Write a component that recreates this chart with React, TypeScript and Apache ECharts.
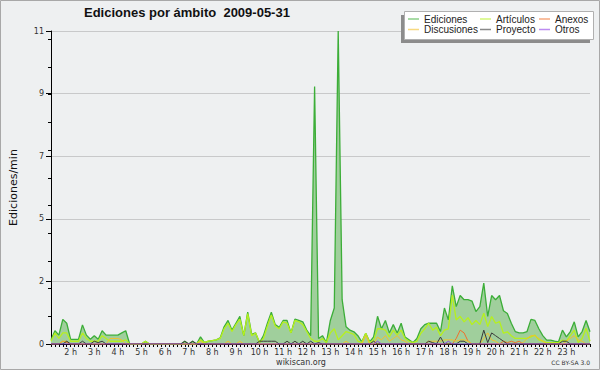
import React, { useEffect, useRef } from "react";
import * as echarts from "echarts";

// 10-minute slots from 1:10 to 24:00
const startMinute = 70;
const stepMinutes = 10;
const slotCount = 138;
const times: string[] = [];
for (let i = 0; i < slotCount; i++) {
  const m = startMinute + i * stepMinutes;
  times.push(`${Math.floor(m / 60)}:${String(m % 60).padStart(2, "0")}`);
}

const yMax = 11.3;
const yInterval = 2.26;

const ediciones = [
  0.15, 0.48, 0.32, 0.89, 0.75, 0.17, 0.17, 0.17, 0.69, 0.32,
  0.17, 0.3, 0.17, 0.48, 0.32, 0.32, 0.32, 0.32, 0.4, 0.48,
  0, 0, 0, 0, 0.1, 0, 0, 0, 0, 0,
  0, 0, 0, 0, 0.1, 0, 0.1, 0, 0.26, 0.05,
  0.1, 0.12, 0.15, 0.22, 0.62, 0.85, 0.5, 0.75, 1.0, 0.3,
  1.15, 0.35, 0.4, 0.05, 0.3, 0.75, 1.15, 0.7, 0.6, 0.85,
  0.85, 0.4, 0.9, 0.85, 0.8, 0.5, 0.3, 9.3, 0.2, 0.3,
  0.05, 0.85, 1.3, 11.3, 1.6, 0.62, 0.5, 0.44, 0.3, 0.08,
  0.39, 0.08, 0.26, 1.0, 0.55, 0.85, 0.4, 0.7, 0.4, 0.75,
  0.25, 0.15, 0.05, 0.2, 0.55, 0.7, 0.75, 0.75, 0.75, 0.45,
  1.3, 0.87, 2.1, 1.35, 1.75, 1.6, 1.6, 1.55, 1.17, 1.35,
  2.2, 1.0, 1.75, 1.6, 1.75, 1.2, 1.1, 0.75, 0.45, 0.4,
  0.4, 0.45, 0.89, 0.85, 0.55, 0.3, 0.14, 0.14, 0.1, 0.08,
  0.5, 0.26, 0.45, 0.8, 0.26, 0.45, 0.85, 0.44,
];

const articulos = [
  0.1, 0.4, 0.2, 0.4, 0.4, 0.1, 0.1, 0.1, 0.4, 0.2,
  0.1, 0.1, 0.1, 0.3, 0.2, 0.1, 0.1, 0.1, 0.1, 0.15,
  0, 0, 0, 0, 0.1, 0, 0, 0, 0, 0,
  0, 0, 0, 0, 0, 0, 0, 0, 0.15, 0.05,
  0.1, 0.12, 0.15, 0.2, 0.55, 0.75, 0.45, 0.7, 0.9, 0.3,
  1.1, 0.3, 0.4, 0.05, 0.2, 0.65, 1.05, 0.65, 0.55, 0.8,
  0.75, 0.4, 0.85, 0.8, 0.7, 0.45, 0.2, 0.1, 0.1, 0.2,
  0.05, 0.4, 0.55, 0.15, 0.3, 0.45, 0.4, 0.35, 0.1, 0.05,
  0.39, 0.05, 0.14, 0.55, 0.55, 0.5, 0.26, 0.5, 0.32, 0.5,
  0.2, 0.1, 0.05, 0.1, 0.39, 0.55, 0.75, 0.5, 0.6, 0.3,
  0.5, 0.55, 1.77, 0.87, 1.0, 0.8, 0.95, 0.7, 0.85, 0.7,
  1.11, 0.63, 0.99, 0.75, 0.81, 0.39, 0.44, 0.3, 0.2, 0.2,
  0.2, 0.2, 0.26, 0.32, 0.15, 0.1, 0.05, 0.05, 0.05, 0.05,
  0.14, 0.1, 0.3, 0.5, 0.05, 0.2, 0.57, 0.1,
];

const anexos = [
  0, 0, 0, 0.1, 0.05, 0, 0, 0, 0, 0,
  0, 0, 0, 0, 0, 0, 0, 0, 0, 0,
  0, 0, 0, 0, 0, 0, 0, 0, 0, 0,
  0, 0, 0, 0, 0, 0, 0, 0, 0, 0,
  0, 0, 0, 0, 0, 0, 0, 0, 0, 0,
  0, 0, 0, 0, 0, 0, 0, 0, 0, 0,
  0, 0, 0, 0, 0, 0, 0, 0, 0, 0,
  0, 0, 0, 0, 0, 0, 0, 0, 0, 0,
  0, 0, 0, 0, 0, 0, 0, 0, 0, 0,
  0, 0, 0, 0, 0, 0, 0, 0, 0, 0,
  0, 0, 0, 0.2, 0.5, 0.4, 0.1, 0, 0, 0,
  0, 0, 0, 0, 0, 0.1, 0.05, 0.1, 0.05, 0.1,
  0, 0, 0, 0, 0, 0, 0, 0, 0, 0,
  0, 0, 0, 0, 0, 0, 0, 0,
];

const discusiones = [
  0, 0, 0, 0.1, 0.1, 0, 0, 0, 0, 0,
  0, 0, 0, 0, 0, 0.2, 0.2, 0.2, 0.15, 0,
  0, 0, 0, 0, 0, 0, 0, 0, 0, 0,
  0, 0, 0, 0, 0, 0, 0, 0, 0.1, 0,
  0, 0, 0, 0, 0, 0.1, 0, 0, 0.1, 0,
  0, 0, 0, 0, 0, 0, 0, 0, 0, 0,
  0, 0, 0, 0, 0, 0, 0, 0, 0, 0,
  0, 0, 0, 0, 0, 0.1, 0, 0, 0, 0,
  0.3, 0, 0, 0.25, 0.15, 0.3, 0.1, 0.2, 0.3, 0.15,
  0.1, 0, 0, 0, 0, 0, 0.1, 0.1, 0.1, 0.1,
  0.15, 0.15, 0.15, 0.1, 0.15, 0.15, 0.1, 0, 0, 0,
  0.2, 0.4, 0.15, 0.1, 0, 0, 0, 0, 0, 0,
  0.05, 0.2, 0.3, 0.3, 0.2, 0.1, 0, 0, 0, 0,
  0, 0.1, 0.2, 0.3, 0.15, 0.1, 0, 0,
];

const proyecto = [
  0, 0, 0, 0, 0.1, 0, 0, 0, 0.1, 0,
  0, 0.1, 0.05, 0.1, 0, 0, 0, 0, 0, 0,
  0, 0, 0, 0, 0, 0, 0, 0, 0, 0,
  0, 0, 0, 0, 0.1, 0, 0.1, 0, 0, 0,
  0, 0, 0, 0, 0, 0, 0, 0, 0, 0,
  0, 0, 0, 0.1, 0.1, 0.1, 0.1, 0.1, 0, 0,
  0.1, 0, 0.1, 0, 0.1, 0, 0.1, 0, 0.05, 0,
  0, 0, 0, 0, 0, 0, 0, 0, 0, 0,
  0, 0, 0.1, 0, 0, 0, 0, 0, 0, 0,
  0, 0, 0, 0, 0, 0, 0.1, 0.05, 0, 0.25,
  0, 0, 0, 0, 0.1, 0.1, 0, 0, 0, 0,
  0.5, 0.05, 0.4, 0.3, 0.2, 0.1, 0, 0, 0, 0,
  0, 0, 0, 0, 0, 0, 0, 0, 0, 0,
  0.1, 0.1, 0, 0, 0, 0, 0, 0,
];

const otros = [
  0, 0, 0, 0, 0, 0, 0, 0, 0, 0,
  0, 0, 0, 0, 0, 0, 0, 0, 0, 0,
  0, 0, 0, 0, 0, 0, 0, 0, 0, 0,
  0, 0, 0, 0, 0, 0, 0, 0, 0, 0,
  0, 0, 0, 0, 0, 0, 0, 0, 0, 0,
  0, 0, 0, 0, 0, 0, 0, 0, 0, 0,
  0, 0, 0, 0, 0, 0, 0, 0, 0, 0,
  0, 0, 0, 0, 0, 0, 0, 0, 0, 0,
  0, 0, 0, 0.1, 0, 0, 0, 0, 0, 0,
  0, 0, 0, 0, 0, 0, 0, 0, 0, 0,
  0, 0.1, 0, 0, 0, 0, 0, 0, 0, 0,
  0, 0, 0, 0, 0, 0, 0, 0, 0, 0,
  0, 0, 0, 0, 0, 0, 0, 0, 0, 0,
  0, 0, 0, 0, 0, 0, 0, 0,
];

const titleText = "Ediciones por ámbito  2009-05-31";
const yName = "Ediciones/min";

const FONT = "'DejaVu Sans', sans-serif";
const LIB = "'Liberation Sans', Arial, sans-serif";

function lineSeries(name: string, data: number[], color: string, width: number, z: number, area?: string) {
  const s: any = {
    name,
    type: "line",
    data,
    symbol: "none",
    showSymbol: false,
    z,
    lineStyle: { color, width },
    itemStyle: { color },
  };
  if (area) s.areaStyle = { color: area, opacity: 1 };
  return s;
}

export default function App() {
  const ref = useRef<HTMLDivElement>(null);
  useEffect(() => {
    if (!ref.current) return;
    const chart = echarts.init(ref.current, null, { renderer: "svg" });
    const legendCommon = {
      orient: "vertical",
      top: 14,
      padding: 0,
      itemWidth: 11,
      itemHeight: 1.5,
      itemGap: 0.5,
      icon: "rect",
      z: 10,
      selectedMode: false,
      itemStyle: { opacity: 0.6 },
      textStyle: { fontSize: 10, fontFamily: LIB, color: "#222", lineHeight: 10, padding: [0, 0, 0, 0] },
    };
    chart.setOption({
      animation: false,
      backgroundColor: "#eef0f1",
      title: {
        text: titleText,
        left: 84,
        top: 6,
        padding: 0,
        textStyle: { fontSize: 13, fontWeight: "bold", fontFamily: LIB, color: "#111" },
      },
      grid: { left: 46, right: 10, top: 31, bottom: 26 },
      legend: [
        { ...legendCommon, left: 408, data: ["Ediciones", "Discusiones"] },
        { ...legendCommon, left: 480, data: ["Artículos", "Proyecto"] },
        { ...legendCommon, left: 539, data: ["Anexos", "Otros"] },
      ],
      xAxis: {
        type: "category",
        data: times,
        boundaryGap: false,
        axisLine: { lineStyle: { color: "#000", width: 1 } },
        axisTick: { interval: 0, length: 3, lineStyle: { color: "#000" } },
        axisLabel: {
          interval: (index: number, value: string) => value.endsWith(":00") && index < slotCount - 1,
          formatter: (value: string) => `${parseInt(value, 10)} h`,
          fontSize: 8,
          fontFamily: FONT,
          color: "#333",
          margin: 4,
        },
        splitLine: { show: false },
      },
      yAxis: [
        {
          type: "value",
          min: 0,
          max: yMax,
          interval: yInterval,
          name: yName,
          nameLocation: "middle",
          nameGap: 32,
          nameRotate: 90,
          nameTextStyle: { fontSize: 11, fontFamily: FONT, color: "#111" },
          axisLine: { show: true, lineStyle: { color: "#000" } },
          axisTick: { show: true, length: 5, lineStyle: { color: "#000" } },
          axisLabel: {
            formatter: (v: number) => String(Math.round(v)),
            fontSize: 8,
            fontFamily: FONT,
            color: "#333",
            margin: 7,
          },
          splitLine: { show: true, lineStyle: { color: "#c8c9ca", width: 1 } },
        },
        {
          type: "value",
          min: 0,
          max: yMax,
          interval: 1,
          position: "left",
          axisLine: { show: false },
          axisTick: { show: true, length: 3, lineStyle: { color: "#000" } },
          axisLabel: { show: false },
          splitLine: { show: false },
        },
      ],
      graphic: [
        {
          type: "rect",
          z: 0,
          silent: true,
          shape: { x: 0.5, y: 0.5, width: 599, height: 369 },
          style: { fill: "none", stroke: "#a8a8a8", lineWidth: 1 },
        },
        {
          type: "rect",
          z: 5,
          silent: true,
          shape: { x: 401, y: 15, width: 189, height: 28 },
          style: { fill: "#8c8c8c" },
        },
        {
          type: "rect",
          z: 6,
          silent: true,
          shape: { x: 404.5, y: 11.5, width: 189, height: 28 },
          style: { fill: "#ffffff", stroke: "#b0b0b0", lineWidth: 1 },
        },
        {
          type: "text",
          z: 10,
          x: 301,
          y: 362,
          style: { text: "wikiscan.org", fontSize: 8, fontFamily: FONT, fill: "#333", align: "center", verticalAlign: "middle" },
        },
        {
          type: "text",
          z: 10,
          x: 590,
          y: 362,
          style: { text: "CC BY-SA 3.0", fontSize: 6, fontFamily: FONT, fill: "#333", align: "right", verticalAlign: "middle" },
        },
      ],
      series: [
        lineSeries("Ediciones", ediciones, "#3cae38", 1.3, 2, "#a0cf9c"),
        lineSeries("Artículos", articulos, "#b6f01e", 1.3, 3),
        lineSeries("Anexos", anexos, "#f0702c", 1, 4),
        lineSeries("Discusiones", discusiones, "#f2c02c", 1, 4),
        lineSeries("Proyecto", proyecto, "#3a3a3a", 1, 4),
        lineSeries("Otros", otros, "#9040e8", 1, 4),
      ],
    });
    return () => chart.dispose();
  }, []);
  return <div ref={ref} style={{ position: "fixed", left: 0, top: 0, width: 600, height: 370 }} />;
}
